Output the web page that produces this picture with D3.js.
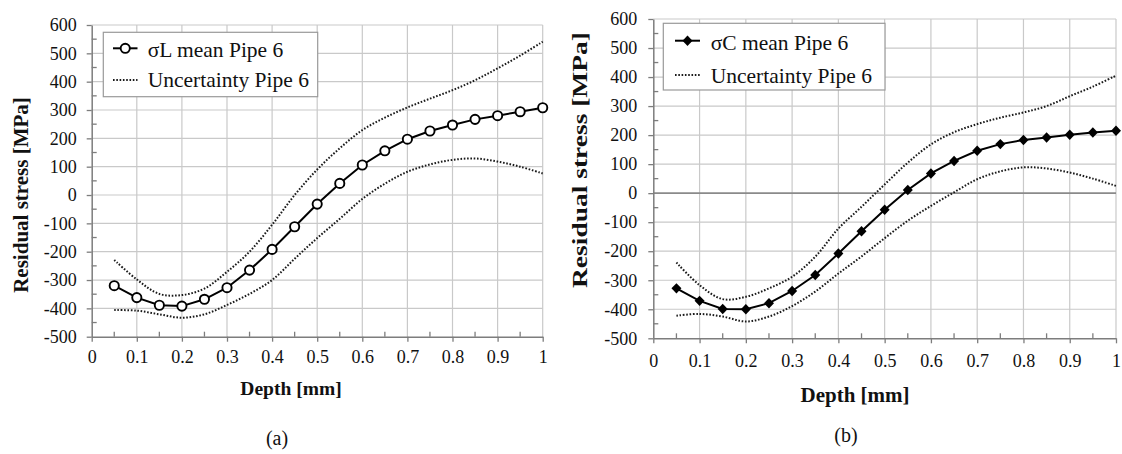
<!DOCTYPE html>
<html>
<head>
<meta charset="utf-8">
<script src="https://cdn.jsdelivr.net/npm/d3@7"></script>
<style>
  html, body { margin: 0; padding: 0; background: #fff; }
  svg { display: block; }
  text { font-family: "Liberation Serif", "Times New Roman", serif; fill: #111; }
</style>
</head>
<body>
<svg id="chart" width="1122" height="454"></svg>
<script>
// ---------------- data ----------------
const depth = [0.05,0.10,0.15,0.20,0.25,0.30,0.35,0.40,0.45,0.50,0.55,0.60,0.65,0.70,0.75,0.80,0.85,0.90,0.95,1.00];

const xTickValues = [0,0.1,0.2,0.3,0.4,0.5,0.6,0.7,0.8,0.9,1];
const xTickLabels = ["0","0.1","0.2","0.3","0.4","0.5","0.6","0.7","0.8","0.9","1"];
const yTickValues = [-500,-400,-300,-200,-100,0,100,200,300,400,500,600];
const yTickLabels = ["-500","-400","-300","-200","-100","0","100","200","300","400","500","600"];

// panel (a) longitudinal stress
const sigmaLMean  = [-320,-362,-389,-392,-368,-327,-265,-192,-112,-32,41,106,156,197,226,247,267,280,294,308];
const sigmaLUpper = [-229,-298,-349,-353,-330,-271,-200,-105,0,90,165,229,273,309,340,370,405,447,492,541];
const sigmaLLower = [-406,-408,-421,-433,-421,-388,-349,-300,-225,-152,-84,-14,40,82,108,124,129,118,100,76];

// panel (b) circumferential stress
const sigmaCMean  = [-328,-371,-399,-400,-379,-337,-282,-208,-131,-57,11,68,111,146,169,183,192,201,209,215];
const sigmaCUpper = [-239,-317,-365,-357,-328,-288,-219,-122,-47,30,105,168,210,238,260,278,300,334,367,405];
const sigmaCLower = [-422,-416,-425,-442,-425,-389,-339,-277,-218,-155,-95,-44,3,48,75,89,85,71,50,25];

const legendMeanA = "\u03C3L mean Pipe 6";
const legendMeanC = "\u03C3C mean Pipe 6";
const legendUnc = "Uncertainty Pipe 6";
const xTitle = "Depth [mm]";
const yTitle = "Residual stress [MPa]";

// ---------------- drawing ----------------
const svg = d3.select("#chart");
const SERIF = '"Liberation Serif", "Times New Roman", serif';

function drawPanel(p) {
  const g = svg.append("g");
  const x = d3.scaleLinear().domain([0, 1]).range([p.left, p.right]);
  const y = d3.scaleLinear().domain([-500, 600]).range([p.bottom, p.top]);

  // grid
  const grid = g.append("g");
  grid.selectAll(".gx").data(xTickValues.filter(v => v > 0)).join("line")
    .attr("x1", d => x(d)).attr("x2", d => x(d))
    .attr("y1", p.top).attr("y2", p.bottom)
    .attr("stroke", "#c9c9c9").attr("stroke-width", 1.2);
  grid.selectAll(".gy").data(yTickValues.filter(v => v > -500)).join("line")
    .attr("x1", p.left).attr("x2", p.right)
    .attr("y1", d => y(d)).attr("y2", d => y(d))
    .attr("stroke", d => (p.zeroLine && d === 0) ? "#8a8a8a" : "#c9c9c9")
    .attr("stroke-width", d => (p.zeroLine && d === 0) ? 1.6 : 1.2);

  // y axis (major ticks outside, minor ticks inside)
  const yAxis = d3.axisLeft(y).tickValues(yTickValues)
    .tickFormat((d, i) => yTickLabels[i]).tickSizeInner(5).tickSizeOuter(0).tickPadding(p.yPad);
  const ya = g.append("g").attr("transform", `translate(${p.left},0)`).call(yAxis)
    .attr("font-family", SERIF).attr("font-size", p.tickFont);
  ya.select(".domain").attr("stroke", "#7d7d7d").attr("stroke-width", 1.5);
  ya.selectAll(".tick line").attr("stroke", "#7d7d7d").attr("stroke-width", 1.3);
  ya.selectAll(".tick text").attr("fill", "#111");
  const yMinor = d3.range(-450, 600, 100);
  g.selectAll(".ymin").data(yMinor).join("line")
    .attr("x1", p.left).attr("x2", p.left + 5)
    .attr("y1", d => y(d)).attr("y2", d => y(d))
    .attr("stroke", "#7d7d7d").attr("stroke-width", 1.3);

  // x axis
  const xAxis = d3.axisBottom(x).tickValues(xTickValues)
    .tickFormat((d, i) => xTickLabels[i]).tickSizeInner(5).tickSizeOuter(0).tickPadding(p.xPad);
  const xa = g.append("g").attr("transform", `translate(0,${p.bottom})`).call(xAxis)
    .attr("font-family", SERIF).attr("font-size", p.tickFont);
  xa.select(".domain").attr("stroke", "#7d7d7d").attr("stroke-width", 1.5);
  xa.selectAll(".tick line").attr("stroke", "#7d7d7d").attr("stroke-width", 1.3);
  xa.selectAll(".tick text").attr("fill", "#111");
  const xMinor = d3.range(0.05, 1, 0.1);
  g.selectAll(".xmin").data(xMinor).join("line")
    .attr("x1", d => x(d)).attr("x2", d => x(d))
    .attr("y1", p.bottom).attr("y2", p.bottom - 5)
    .attr("stroke", "#7d7d7d").attr("stroke-width", 1.3);

  // uncertainty curves
  const smooth = d3.line().x((d, i) => x(depth[i])).y(d => y(d)).curve(d3.curveCatmullRom.alpha(0.5));
  [p.upper, p.lower].forEach(arr => {
    g.append("path").attr("d", smooth(arr))
      .attr("fill", "none").attr("stroke", "#1a1a1a")
      .attr("stroke-width", 2).attr("stroke-dasharray", "1.6,1.7");
  });

  // mean line
  const straight = d3.line().x((d, i) => x(depth[i])).y(d => y(d));
  g.append("path").attr("d", straight(p.mean))
    .attr("fill", "none").attr("stroke", "#000").attr("stroke-width", 2);

  function marker(sel) {
    if (p.marker === "circle") {
      sel.append("circle").attr("r", 4.6).attr("fill", "#fff")
        .attr("stroke", "#000").attr("stroke-width", 1.9);
    } else {
      sel.append("path").attr("d", "M0,-5.2L5,0L0,5.2L-5,0Z").attr("fill", "#000");
    }
  }
  p.mean.forEach((v, i) => {
    const m = g.append("g").attr("transform", `translate(${x(depth[i])},${y(v)})`);
    marker(m);
  });

  // legend
  const L = p.legend;
  g.append("rect").attr("x", L.x).attr("y", L.y).attr("width", L.w).attr("height", L.h)
    .attr("fill", "#fff").attr("stroke", "#9a9a9a").attr("stroke-width", 1.2);
  g.append("line").attr("x1", L.sx0).attr("x2", L.sx1).attr("y1", L.r1).attr("y2", L.r1)
    .attr("stroke", "#000").attr("stroke-width", 2);
  marker(g.append("g").attr("transform", `translate(${(L.sx0 + L.sx1) / 2},${L.r1})`));
  g.append("line").attr("x1", L.sx0).attr("x2", L.sx1).attr("y1", L.r2).attr("y2", L.r2)
    .attr("stroke", "#1a1a1a").attr("stroke-width", 2).attr("stroke-dasharray", "1.6,1.7");
  g.append("text").attr("x", L.tx).attr("y", L.b1).attr("font-size", L.font).text(p.meanLabel);
  g.append("text").attr("x", L.tx).attr("y", L.b2).attr("font-size", L.font).text(legendUnc);

  // axis titles
  g.append("text").attr("x", p.xtX).attr("y", p.xtY).attr("text-anchor", "middle")
    .attr("font-size", p.xtFont).attr("font-weight", "bold").text(xTitle);
  const yt = g.append("text")
    .attr("transform", `translate(${p.ytX},${p.ytY}) rotate(-90)`)
    .attr("text-anchor", "middle").attr("font-size", p.ytFont).attr("font-weight", "bold")
    .text(yTitle);
  if (p.ytLen) yt.attr("textLength", p.ytLen).attr("lengthAdjust", "spacingAndGlyphs");

  // caption
  g.append("text").attr("x", p.capX).attr("y", p.capY).attr("text-anchor", "middle")
    .attr("font-size", 20).text(p.caption);
}

drawPanel({
  left: 91.7, right: 542.7, top: 25, bottom: 336.7,
  mean: sigmaLMean, upper: sigmaLUpper, lower: sigmaLLower,
  marker: "circle", meanLabel: legendMeanA, zeroLine: false,
  tickFont: 18, yPad: 10, xPad: 9,
  legend: { x: 103.3, y: 32.3, w: 214.4, h: 64.4, sx0: 113, sx1: 137.5, r1: 48.3, r2: 80,
            tx: 147.7, b1: 56.5, b2: 87.3, font: 21.5 },
  xtX: 291, xtY: 395, xtFont: 19.5,
  ytX: 27.5, ytY: 195, ytFont: 21,
  capX: 277, capY: 445, caption: "(a)"
});

drawPanel({
  left: 653.3, right: 1116, top: 19, bottom: 338.3,
  mean: sigmaCMean, upper: sigmaCUpper, lower: sigmaCLower,
  marker: "diamond", meanLabel: legendMeanC, zeroLine: true,
  tickFont: 18, yPad: 11, xPad: 11,
  legend: { x: 663.3, y: 23.3, w: 221.7, h: 66.7, sx0: 675, sx1: 700, r1: 40.7, r2: 75,
            tx: 710.7, b1: 49.5, b2: 83.3, font: 21.5 },
  xtX: 855, xtY: 402, xtFont: 21,
  ytX: 587, ytY: 160, ytFont: 21, ytLen: 256,
  capX: 846, capY: 442, caption: "(b)"
});
</script>
</body>
</html>
